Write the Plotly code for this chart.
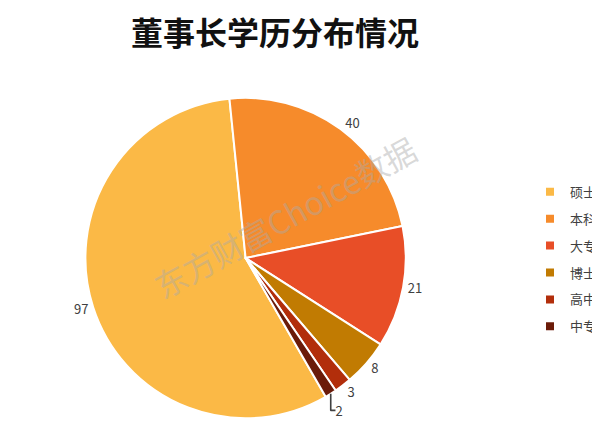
import plotly.graph_objects as go

categories = ["硕士", "本科", "大专", "博士", "高中", "中专"]
values = [97, 40, 21, 8, 3, 2]
colors = ["#FBB946", "#F68B2B", "#E84E27", "#C17B02", "#B22E0B", "#6B1B09"]

fig = go.Figure()
fig.add_trace(go.Pie(
    labels=categories,
    values=values,
    sort=False,
    direction="clockwise",
    rotation=150,
    marker=dict(colors=colors, line=dict(color="white", width=2)),
    texttemplate="%{value}",
    textposition="outside",
    textfont=dict(size=13, color="#404040", family="Noto Sans CJK SC"),
    hoverinfo="label+value",
    domain=dict(x=[0.129, 0.663], y=[0.037, 0.789]),
    showlegend=False,
))

# legend entries (one per category) so the entries can be spaced like the reference
for cat, col in zip(categories, colors):
    fig.add_trace(go.Scatter(
        x=[None], y=[None], mode="markers", name=cat, legendgroup=cat,
        marker=dict(symbol="square", size=8, color=col),
        hoverinfo="skip",
    ))

fig.update_layout(
    width=600, height=426,
    margin=dict(l=0, r=0, t=0, b=0),
    paper_bgcolor="white",
    plot_bgcolor="white",
    font=dict(family="Noto Sans CJK SC", color="#404040"),
    xaxis=dict(visible=False),
    yaxis=dict(visible=False),
    title=dict(text="<b>董事长学历分布情况</b>", x=0.445, xanchor="center",
               y=0.94, yanchor="middle",
               font=dict(size=32, color="#111111", family="Noto Sans CJK SC")),
    legend=dict(x=0.87, y=0.41, xanchor="left", yanchor="middle",
                font=dict(size=13, color="#404040"), itemwidth=30,
                entrywidth=72, entrywidthmode="pixels",
                tracegroupgap=7, bgcolor="rgba(0,0,0,0)"),
    annotations=[dict(text="东方财富Choice数据", x=0.46, y=0.51, xref="paper", yref="paper",
                      showarrow=False, textangle=-29,
                      font=dict(size=32, color="rgba(170,170,170,0.45)", family="Noto Sans CJK SC"))],
)

fig.write_html("out.html")
